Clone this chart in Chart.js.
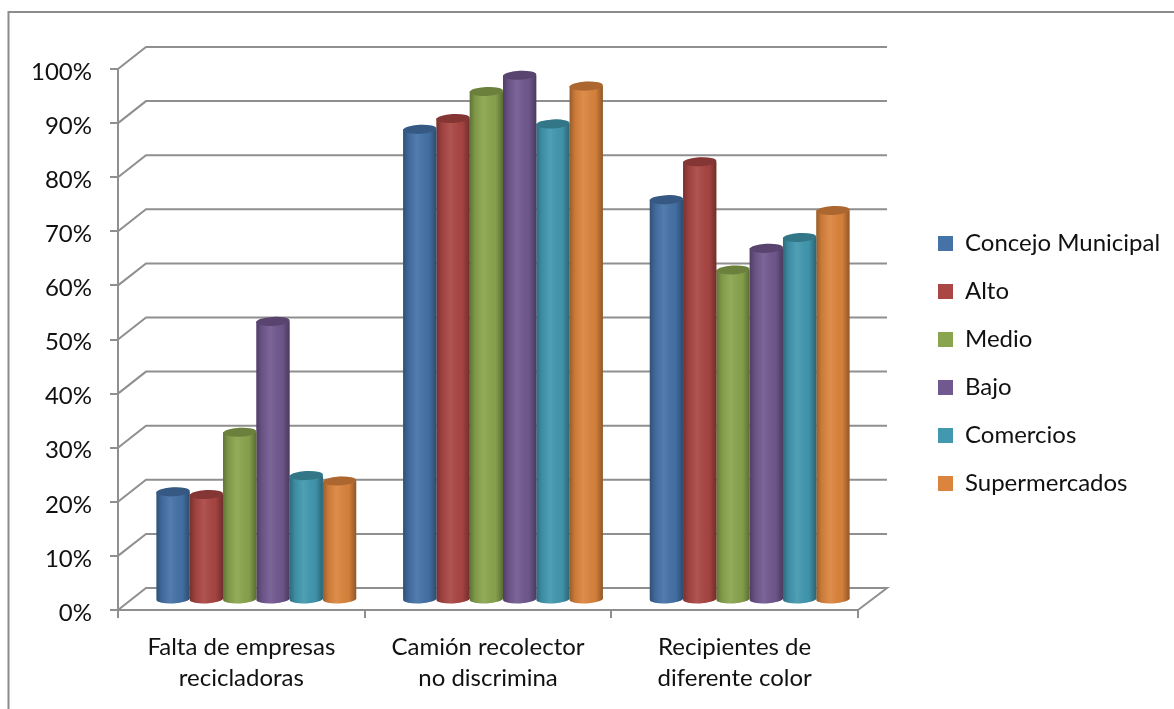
<!DOCTYPE html>
<html>
<head>
<meta charset="utf-8">
<title>Chart</title>
<script src="https://cdn.jsdelivr.net/npm/chart.js@4"></script>
<style>
    html, body { margin: 0; padding: 0; background: #fff; }
    canvas { display: block; }
</style>
</head>
<body>
<canvas id="chart" width="1174" height="709"></canvas>
<script>
const categories = [
    ['Falta de empresas', 'recicladoras'],
    ['Camión recolector', 'no discrimina'],
    ['Recipientes de', 'diferente color']
];
const concejo = [20, 87, 74];
const alto = [19.5, 89, 81];
const medio = [31, 94, 61];
const bajo = [51.5, 97, 65];
const comercios = [23, 88, 67];
const supermercados = [22, 95, 72];
const seriesNames = ['Concejo Municipal', 'Alto', 'Medio', 'Bajo', 'Comercios', 'Supermercados'];
const seriesColors = ['#4572A7', '#AA4643', '#89A54E', '#71588F', '#4198AF', '#DB843D'];

const FONT = 'Lato, Carlito, sans-serif';
const GRID = '#8f8f8f';
const DEPTH_X = 28;
const DEPTH_Y = 22;
const BAR_DX = 15;
const BAR_DY = 10;
const CAP_RY = 4.5;
const CAP_TILT = -0.05;

// marco, paredes y piso en falsa perspectiva
const wallsPlugin = {
    id: 'walls',
    beforeDatasetsDraw(chart) {
        const ctx = chart.ctx;
        const { left, right } = chart.chartArea;
        const yScale = chart.scales.y;
        ctx.save();
        ctx.strokeStyle = GRID;
        ctx.lineWidth = 2;
        yScale.ticks.forEach(t => {
            const y = yScale.getPixelForValue(t.value);
            ctx.beginPath();
            ctx.moveTo(left, y);
            ctx.lineTo(left + DEPTH_X, y - DEPTH_Y);
            ctx.lineTo(right + DEPTH_X + 1, y - DEPTH_Y);
            if (t.value === 0) ctx.lineTo(right, y);
            ctx.stroke();
        });
        ctx.restore();
    },
    beforeDraw(chart) {
        const ctx = chart.ctx;
        ctx.save();
        ctx.fillStyle = '#fff';
        ctx.fillRect(0, 0, chart.width, chart.height);
        ctx.strokeStyle = '#8c8c8c';
        ctx.lineWidth = 2;
        ctx.beginPath();
        ctx.moveTo(8.5, chart.height);
        ctx.lineTo(8.5, 12);
        ctx.lineTo(chart.width, 12);
        ctx.stroke();
        ctx.restore();
    },
    afterLayout(chart) {
        // la leyenda va fuera del área del gráfico
        const legend = chart.legend;
        legend.left = 914;
        legend.right = 1174;
        legend.top = 207.5;
        legend.bottom = 530;
    }
};

// las barras se desplazan hacia el fondo y se redondean como cilindros
const cylinderPlugin = {
    id: 'cylinder',
    beforeDatasetDraw(chart) {
        chart.ctx.save();
        chart.ctx.translate(BAR_DX, -BAR_DY);
    },
    afterDatasetDraw(chart, args) {
        const ctx = chart.ctx;
        const color = seriesColors[args.index];
        args.meta.data.forEach(bar => {
            const rx = bar.width / 2;
            const x0 = bar.x - rx;
            const x1 = bar.x + rx;

            // fondo redondeado
            ctx.fillStyle = color;
            ctx.beginPath();
            ctx.ellipse(bar.x, bar.base, rx, CAP_RY, CAP_TILT, 0, Math.PI * 2);
            ctx.fill();

            // sombreado lateral
            const shade = ctx.createLinearGradient(x0, 0, x1, 0);
            shade.addColorStop(0, 'rgba(0,0,0,0.30)');
            shade.addColorStop(0.16, 'rgba(0,0,0,0.08)');
            shade.addColorStop(0.42, 'rgba(255,255,255,0.08)');
            shade.addColorStop(0.78, 'rgba(0,0,0,0.04)');
            shade.addColorStop(1, 'rgba(0,0,0,0.34)');
            ctx.fillStyle = shade;
            ctx.beginPath();
            ctx.moveTo(x0, bar.y);
            ctx.lineTo(x1, bar.y);
            ctx.lineTo(x1, bar.base);
            ctx.ellipse(bar.x, bar.base, rx, CAP_RY, CAP_TILT, 0, Math.PI);
            ctx.closePath();
            ctx.fill();

            // tapa superior
            ctx.beginPath();
            ctx.ellipse(bar.x, bar.y, rx, CAP_RY, CAP_TILT, 0, Math.PI * 2);
            ctx.fillStyle = color;
            ctx.fill();
            ctx.fillStyle = 'rgba(0,0,0,0.22)';
            ctx.fill();
        });
        ctx.restore();
    }
};

function makeDataset(name, values, i) {
    return {
        label: name,
        data: values,
        backgroundColor: seriesColors[i],
        borderWidth: 0,
        clip: false,
        categoryPercentage: 0.81,
        barPercentage: 1
    };
}

new Chart(document.getElementById('chart'), {
    type: 'bar',
    data: {
        labels: categories,
        datasets: [concejo, alto, medio, bajo, comercios, supermercados]
            .map((values, i) => makeDataset(seriesNames[i], values, i))
    },
    options: {
        responsive: false,
        animation: false,
        layout: { padding: { top: 69, right: 316, left: 0, bottom: 0 } },
        plugins: {
            tooltip: { enabled: false },
            legend: {
                position: 'chartArea',
                align: 'start',
                labels: {
                    boxWidth: 15,
                    boxHeight: 15,
                    padding: 24,
                    color: '#111',
                    font: { family: FONT, size: 24 }
                }
            }
        },
        scales: {
            x: {
                afterFit(scale) { scale.height = 99; },
                border: { color: GRID, width: 2 },
                grid: { color: GRID, lineWidth: 2, drawOnChartArea: false, tickLength: 8 },
                ticks: {
                    color: '#111',
                    padding: 14,
                    maxRotation: 0,
                    font: { family: FONT, size: 24, lineHeight: '31px' }
                }
            },
            y: {
                min: 0,
                max: 100,
                afterFit(scale) { scale.width = 118; },
                border: { color: GRID, width: 2 },
                grid: { color: GRID, lineWidth: 2, drawOnChartArea: false, tickLength: 8 },
                ticks: {
                    stepSize: 10,
                    color: '#111',
                    padding: 18,
                    labelOffset: 3,
                    font: { family: FONT, size: 24 },
                    callback: v => v + '%'
                }
            }
        }
    },
    plugins: [wallsPlugin, cylinderPlugin]
});
</script>
</body>
</html>
